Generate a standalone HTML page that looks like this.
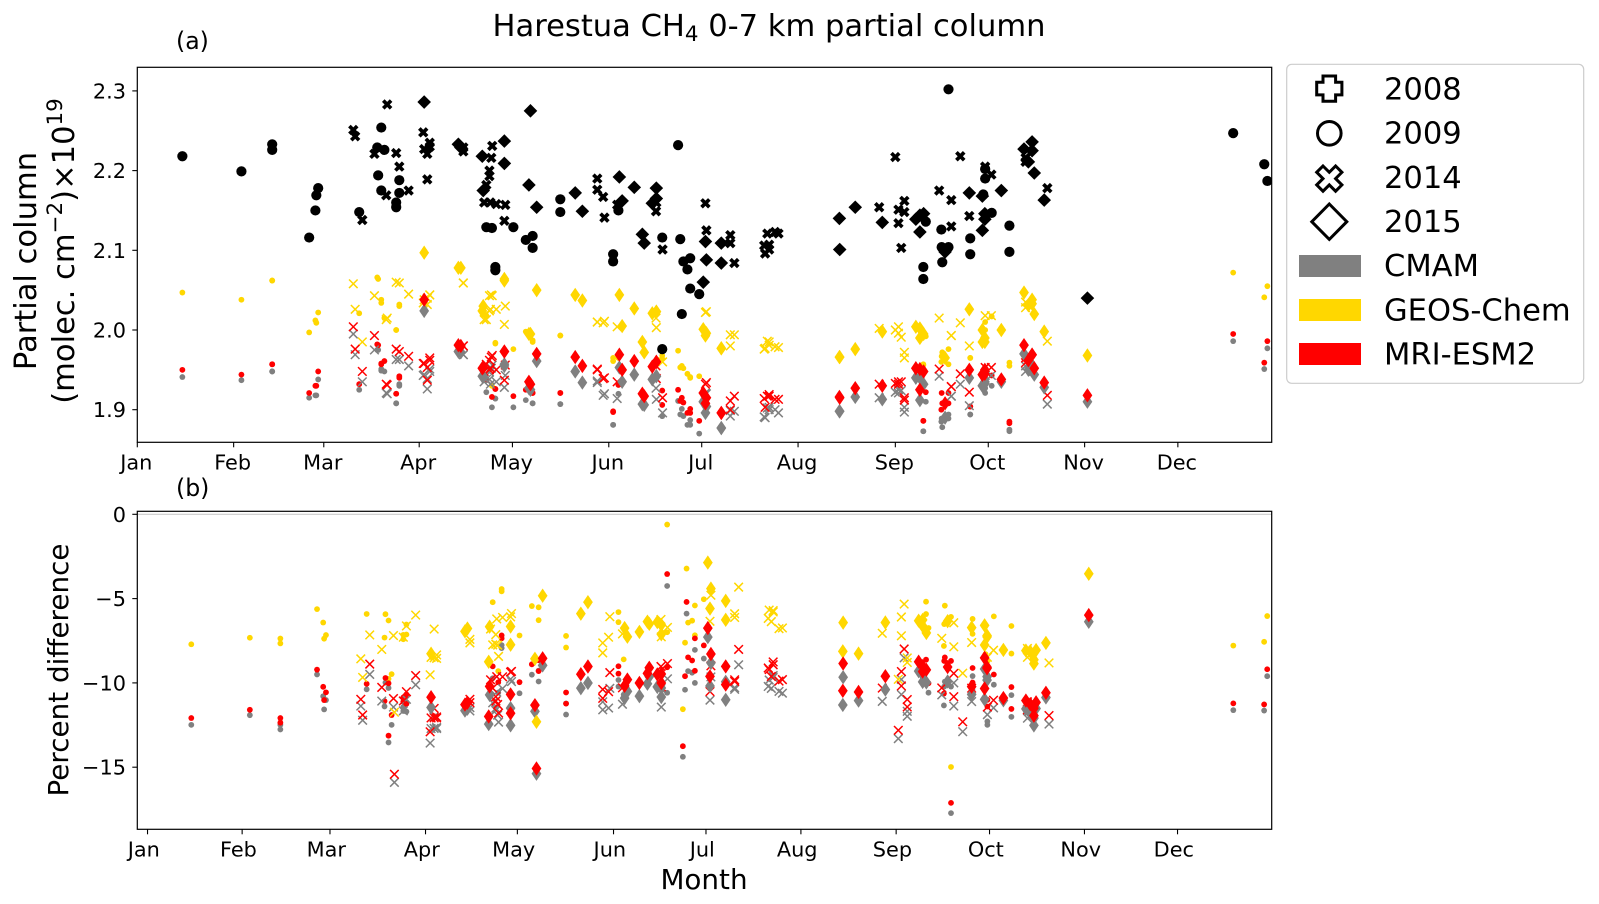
<!DOCTYPE html>
<html lang="en">
<head>
<meta charset="utf-8">
<title>Harestua CH4 0-7 km partial column</title>
<style>
html,body{margin:0;padding:0;background:#fff;}
svg{display:block;}
text{font-family:"DejaVu Sans","Liberation Sans",sans-serif;fill:#000;}
</style>
</head>
<body>
<svg id="fig" xmlns="http://www.w3.org/2000/svg" width="1599" height="904" viewBox="0 0 1599 904">
  <defs>
    <clipPath id="clip-a"><rect x="137.3" y="67.3" width="1134.4" height="375"/></clipPath>
    <clipPath id="clip-b"><rect x="137.3" y="511.3" width="1134.4" height="318"/></clipPath>
  </defs>
  <rect width="1599" height="904" fill="#fff"/>

  <text x="769" y="36" font-size="30.56" text-anchor="middle">Harestua CH<tspan font-size="21.4" dy="5">4</tspan><tspan dy="-5"> 0-7 km partial column</tspan></text>
  <text x="176" y="49" font-size="23.6">(a)</text>
  <text x="176" y="496" font-size="23.6">(b)</text>

  <text transform="translate(36 261) rotate(-90)" font-size="30.56" text-anchor="middle">Partial column</text>
  <text transform="translate(74 251) rotate(-90)" font-size="30.56" text-anchor="middle">(molec. cm<tspan font-size="21.4" dy="-12">−2</tspan><tspan dy="12">)×10</tspan><tspan font-size="21.4" dy="-12">19</tspan></text>
  <text transform="translate(68 670) rotate(-90)" font-size="27.8" text-anchor="middle">Percent difference</text>
  <text x="704" y="889" font-size="27.8" text-anchor="middle">Month</text>

  <g id="ticks"></g>
  <g id="marks-a" clip-path="url(#clip-a)"></g>
  <line id="zero-line" x1="137.3" x2="1271.7" stroke="#cccccc" stroke-width="1.2"/>
  <g id="marks-b" clip-path="url(#clip-b)"></g>
  <rect x="137.3" y="67.3" width="1134.4" height="375" fill="none" stroke="#000" stroke-width="1.2"/>
  <rect x="137.3" y="511.3" width="1134.4" height="318" fill="none" stroke="#000" stroke-width="1.2"/>

  <g>
    <rect x="1286.7" y="64.3" width="297" height="319" rx="5" ry="5" fill="#fff" stroke="#cccccc" stroke-width="1.2"/>
    <path d="M1323 76h12.6v6.3h6.3v12.6h-6.3v6.3h-12.6v-6.3h-6.3v-12.6h6.3z" fill="#fff" stroke="#000" stroke-width="3"/>
    <circle cx="1329.3" cy="133.3" r="11.8" fill="#fff" stroke="#000" stroke-width="3"/>
    <path d="M1323 166l6.3 6.3 6.3-6.3 6.3 6.3-6.3 6.3 6.3 6.3-6.3 6.3-6.3-6.3-6.3 6.3-6.3-6.3 6.3-6.3-6.3-6.3z" fill="#fff" stroke="#000" stroke-width="3"/>
    <path d="M1329.3 204l17.5 17.7-17.5 17.7-17.5-17.7z" fill="#fff" stroke="#000" stroke-width="3"/>
    <rect x="1299" y="255" width="62" height="22" fill="#808080"/>
    <rect x="1299" y="299" width="62" height="22" fill="#ffd700"/>
    <rect x="1299" y="343" width="62" height="22" fill="#ff0000"/>
    <text x="1384" y="99.5" font-size="30.56">2008</text>
    <text x="1384" y="143.5" font-size="30.56">2009</text>
    <text x="1384" y="188" font-size="30.56">2014</text>
    <text x="1384" y="232" font-size="30.56">2015</text>
    <text x="1384" y="276" font-size="30.56">CMAM</text>
    <text x="1384" y="320.5" font-size="30.56">GEOS-Chem</text>
    <text x="1384" y="364.5" font-size="30.56">MRI-ESM2</text>
  </g>
</svg>
<script>
// Tick labels and tick values for each day axis
const monthLabels = ["Jan","Feb","Mar","Apr","May","Jun","Jul","Aug","Sep","Oct","Nov","Dec"];
const monthTicksA = [0,31,60,90.7,120.7,151.7,181.6,212.6,243.9,273.8,304.8,334.8];
const monthTicksB = [0.3,31,59.5,90.5,120.3,151.5,181.5,212.3,243.2,273.5,304.3,334.5];
const yTicksA = [1.9,2.0,2.1,2.2,2.3];
const yTickLabelsA = ["1.9","2.0","2.1","2.2","2.3"];
const yTicksB = [0,-5,-10,-15];
const yTickLabelsB = ["0","−5","−10","−15"];

// 2009 soundings
const days2009 = [14.5,33.5,43.4,43.4,55.3,57.3,57.6,58.2,71.4,77.2,77.5,78.5,78.5,79.5,83.3,83.3,84.3,84.3,112.3,114.1,115.2,115.2,121,125,127.2,127.2,136.1,136.1,153.1,153.1,154.8,168.9,168.9,174,174.7,175.2,175.7,177,177.9,177.9,180.8,252.9,252.9,253.7,258.7,258.8,259,261,261,268,268,272.2,272.8,272.8,274.9,280.6,280.6,352.6,362.6,363.6];
const obs2009 = [2.218,2.199,2.233,2.226,2.116,2.150,2.169,2.178,2.148,2.229,2.194,2.254,2.175,2.226,2.160,2.154,2.188,2.172,2.129,2.128,2.079,2.075,2.129,2.113,2.118,2.103,2.164,2.148,2.095,2.086,2.150,2.116,1.976,2.232,2.114,2.020,2.086,2.076,2.090,2.052,2.045,2.079,2.064,2.136,2.126,2.104,2.085,2.104,2.302,2.115,2.095,2.170,2.202,2.190,2.147,2.131,2.098,2.247,2.208,2.187];
const cmam2009 = [1.941,1.937,1.948,1.948,1.915,1.918,1.918,1.938,1.925,1.975,1.975,1.949,1.951,1.948,1.908,1.908,1.932,1.930,1.922,1.903,1.914,1.914,1.903,1.912,1.908,1.908,1.907,1.907,1.881,1.881,1.920,1.892,1.892,1.911,1.894,1.901,1.892,1.881,1.881,1.887,1.870,1.873,1.873,1.910,1.885,1.889,1.878,1.889,1.894,1.894,1.894,1.931,1.927,1.921,1.930,1.875,1.873,1.986,1.951,1.977];
const geos2009 = [2.047,2.038,2.062,2.062,1.997,2.012,2.009,2.022,2.021,2.066,2.064,2.034,2.038,2.015,2.000,2.000,2.032,2.030,2.018,1.930,1.984,1.983,1.976,1.998,1.985,1.987,1.993,1.993,1.961,1.965,1.965,1.968,1.964,1.974,1.953,1.955,1.952,1.945,1.940,1.941,1.942,1.956,1.957,1.992,1.960,1.967,1.972,1.976,1.957,1.965,1.965,1.990,2.010,2.000,2.017,1.955,1.959,2.072,2.041,2.055];
const mri2009 = [1.950,1.944,1.957,1.957,1.921,1.930,1.930,1.948,1.932,1.982,1.981,1.958,1.957,1.961,1.920,1.920,1.942,1.940,1.937,1.916,1.926,1.926,1.917,1.925,1.921,1.921,1.921,1.921,1.897,1.898,1.931,1.924,1.906,1.925,1.911,1.915,1.909,1.896,1.896,1.901,1.886,1.886,1.886,1.922,1.900,1.921,1.908,1.921,1.908,1.904,1.904,1.946,1.951,1.949,1.943,1.885,1.883,1.995,1.959,1.986];

// 2014 soundings
const days2014 = [69.5,70.1,72.4,76.3,80.1,80.4,83.3,84.3,87.3,92,92.3,93.3,93.3,94.1,94.1,104.9,104.9,111.6,112.3,113.3,113.3,113.6,113.9,114.2,115.5,118.1,118.4,148,148,149.9,150.3,154.4,166.9,167,169,182.8,183.1,190.8,190.8,192.1,201.7,202,202.7,203.3,203.3,205.2,206.3,238.7,243.9,244.9,244.9,245.8,246.8,246.8,258,261.9,261.9,264.8,267.7,272.8,274.8,285.8,285.8,292.8];
const obs2014 = [2.251,2.243,2.138,2.221,2.169,2.283,2.222,2.205,2.175,2.248,2.227,2.221,2.189,2.235,2.230,2.229,2.224,2.160,2.182,2.200,2.193,2.160,2.216,2.231,2.158,2.137,2.157,2.190,2.176,2.167,2.141,2.157,2.149,2.160,2.101,2.159,2.125,2.119,2.109,2.084,2.106,2.096,2.121,2.107,2.101,2.123,2.121,2.154,2.217,2.151,2.134,2.103,2.162,2.148,2.175,2.163,2.130,2.218,2.143,2.205,2.195,2.216,2.211,2.178];
const cmam2014 = [1.995,1.969,1.935,1.975,1.921,1.920,1.963,1.963,1.955,1.943,1.944,1.939,1.926,1.951,1.948,1.969,1.969,1.935,1.938,1.947,1.938,1.932,1.952,1.956,1.935,1.928,1.943,1.936,1.934,1.918,1.920,1.914,1.927,1.913,1.896,1.921,1.920,1.899,1.892,1.898,1.891,1.890,1.902,1.903,1.900,1.900,1.896,1.915,1.922,1.921,1.925,1.924,1.903,1.897,1.942,1.917,1.917,1.932,1.905,1.943,1.943,1.948,1.955,1.907];
const geos2014 = [2.058,2.026,1.985,2.043,2.013,2.015,2.060,2.059,2.045,2.034,2.038,2.032,2.040,2.044,2.044,2.059,2.059,2.013,2.013,2.043,2.024,2.026,2.044,2.043,2.026,2.007,2.030,2.010,2.010,2.009,2.011,2.004,2.015,2.003,1.960,2.022,2.023,1.994,1.980,1.994,1.976,1.977,1.986,1.985,1.981,1.979,1.978,2.002,2.000,1.996,2.004,1.991,1.972,1.965,2.015,1.993,1.993,2.009,1.980,2.018,2.018,2.028,2.035,1.986];
const mri2014 = [2.004,1.976,1.948,1.993,1.932,1.931,1.976,1.973,1.967,1.958,1.958,1.953,1.937,1.965,1.962,1.980,1.980,1.948,1.957,1.962,1.950,1.952,1.966,1.968,1.950,1.937,1.956,1.951,1.950,1.939,1.940,1.935,1.955,1.939,1.915,1.932,1.934,1.911,1.900,1.917,1.914,1.903,1.917,1.919,1.917,1.913,1.913,1.932,1.933,1.932,1.935,1.935,1.915,1.912,1.951,1.929,1.929,1.945,1.922,1.953,1.953,1.959,1.965,1.918];

// 2015 soundings
const days2015 = [92.3,103.3,104.1,111,111.3,118.1,118.1,126,126.5,128.5,140.9,143.2,155.1,156,159.9,162.5,163.1,165.7,167,167,182.1,182.8,183.1,187.9,187.9,225.9,226,231,239.7,250.5,251.8,251.8,253,259.9,267.7,271.9,271.9,272.7,272.7,278,285.3,286.7,287.9,287.9,288.6,291.8,305.7];
const obs2015 = [2.286,2.233,2.229,2.218,2.175,2.237,2.209,2.182,2.275,2.154,2.172,2.149,2.192,2.162,2.179,2.120,2.109,2.159,2.178,2.165,2.060,2.111,2.088,2.109,2.084,2.140,2.101,2.154,2.135,2.139,2.144,2.123,2.146,2.098,2.172,2.168,2.125,2.146,2.139,2.175,2.227,2.211,2.236,2.225,2.197,2.163,2.040];
const cmam2015 = [2.024,1.973,1.972,1.942,1.942,1.957,1.955,1.927,1.925,1.961,1.948,1.934,1.953,1.935,1.944,1.907,1.906,1.938,1.942,1.942,1.910,1.896,1.904,1.877,1.877,1.898,1.898,1.916,1.913,1.940,1.940,1.912,1.932,1.890,1.940,1.930,1.930,1.935,1.933,1.935,1.970,1.950,1.956,1.956,1.944,1.928,1.910];
const geos2015 = [2.097,2.078,2.078,2.024,2.030,2.064,2.062,1.995,1.995,2.050,2.044,2.037,2.044,2.005,2.027,1.985,1.972,2.021,2.023,2.023,2.001,1.993,1.996,1.977,1.977,1.966,1.966,1.976,1.998,2.004,2.002,1.990,1.995,1.965,2.026,2.000,1.985,1.990,1.985,2.000,2.047,2.031,2.038,2.033,2.020,1.998,1.968];
const mri2015 = [2.038,1.981,1.980,1.952,1.953,1.973,1.973,1.935,1.932,1.970,1.966,1.955,1.969,1.950,1.961,1.920,1.917,1.954,1.960,1.960,1.921,1.908,1.915,1.896,1.896,1.916,1.915,1.927,1.930,1.952,1.951,1.925,1.948,1.908,1.950,1.944,1.944,1.950,1.945,1.938,1.981,1.962,1.969,1.969,1.952,1.934,1.918];

const SVGNS = "http://www.w3.org/2000/svg";

// Axis functions
function xA(d){ return 137.3 + 3.108 * d; }
function xB(d){ return 146.6 + 3.082 * d; }
function yA(v){ return 330 + (2.0 - v) * 797; }
function yB(p){ return 514.3 - p * 16.86; }
function pct(model, obs){ return (model - obs) / obs * 100; }

document.getElementById('zero-line').setAttribute('y1', yB(0));
document.getElementById('zero-line').setAttribute('y2', yB(0));

function svgEl(tag, parent){
  const el = document.createElementNS(SVGNS, tag);
  parent.appendChild(el);
  return el;
}

function xPath(cx, cy, u){
  const pts = [[-1,-2],[0,-1],[1,-2],[2,-1],[1,0],[2,1],[1,2],[0,1],[-1,2],[-2,1],[-1,0],[-2,-1]];
  return "M" + pts.map(function(p){ return (cx + p[0]*u).toFixed(2) + " " + (cy + p[1]*u).toFixed(2); }).join("L") + "Z";
}

function drawMark(group, kind, cx, cy, color, name){
  let el;
  if (kind === "obs2009") {
    el = svgEl("circle", group);
    el.setAttribute("cx", cx); el.setAttribute("cy", cy); el.setAttribute("r", 5.1);
    el.setAttribute("fill", color);
  } else if (kind === "obs2014") {
    el = svgEl("path", group);
    el.setAttribute("d", xPath(cx, cy, 2.6));
    el.setAttribute("fill", color);
  } else if (kind === "obs2015") {
    el = svgEl("path", group);
    el.setAttribute("d", "M" + cx + " " + (cy-6.8) + "L" + (cx+6.8) + " " + cy + "L" + cx + " " + (cy+6.8) + "L" + (cx-6.8) + " " + cy + "Z");
    el.setAttribute("fill", color);
  } else if (kind === "model2009") {
    el = svgEl("circle", group);
    el.setAttribute("cx", cx); el.setAttribute("cy", cy); el.setAttribute("r", 2.9);
    el.setAttribute("fill", color);
  } else if (kind === "model2014") {
    el = svgEl("path", group);
    el.setAttribute("d", "M" + (cx-4.3) + " " + (cy-4.3) + "L" + (cx+4.3) + " " + (cy+4.3) + "M" + (cx-4.3) + " " + (cy+4.3) + "L" + (cx+4.3) + " " + (cy-4.3));
    el.setAttribute("stroke", color);
    el.setAttribute("stroke-width", 1.5);
    el.setAttribute("fill", "none");
  } else {
    el = svgEl("path", group);
    el.setAttribute("d", "M" + cx + " " + (cy-7.2) + "L" + (cx+4.9) + " " + cy + "L" + cx + " " + (cy+7.2) + "L" + (cx-4.9) + " " + cy + "Z");
    el.setAttribute("fill", color);
  }
  
  
}

const groupA = document.getElementById('marks-a');
const groupB = document.getElementById('marks-b');

function drawYear(year, days, obs, cmam, geos, mri){
  const modelKind = "model" + year;
  const models = [[cmam, "#808080", "cmam"], [geos, "#ffd700", "geos-chem"], [mri, "#ff0000", "mri-esm2"]];
  models.forEach(function(m){
    days.forEach(function(d, i){
      drawMark(groupA, modelKind, xA(d), yA(m[0][i]), m[1], "column-" + m[2] + "-" + year);
      drawMark(groupB, modelKind, xB(d), yB(pct(m[0][i], obs[i])), m[1], "difference-" + m[2] + "-" + year);
    });
  });
}

drawYear(2009, days2009, obs2009, cmam2009, geos2009, mri2009);
drawYear(2014, days2014, obs2014, cmam2014, geos2014, mri2014);
drawYear(2015, days2015, obs2015, cmam2015, geos2015, mri2015);

days2009.forEach(function(d, i){ drawMark(groupA, "obs2009", xA(d), yA(obs2009[i]), "#000", "column-observed-2009"); });
days2014.forEach(function(d, i){ drawMark(groupA, "obs2014", xA(d), yA(obs2014[i]), "#000", "column-observed-2014"); });
days2015.forEach(function(d, i){ drawMark(groupA, "obs2015", xA(d), yA(obs2015[i]), "#000", "column-observed-2015"); });

// Ticks and tick labels
const tickGroup = document.getElementById('ticks');

function tickLine(x1, y1, x2, y2, name){
  const l = svgEl("line", tickGroup);
  l.setAttribute("x1", x1); l.setAttribute("y1", y1);
  l.setAttribute("x2", x2); l.setAttribute("y2", y2);
  l.setAttribute("stroke", "#000");
  l.setAttribute("stroke-width", 1.1);
  
  
}

function tickText(x, y, anchor, str, name){
  const t = svgEl("text", tickGroup);
  t.setAttribute("x", x); t.setAttribute("y", y);
  t.setAttribute("text-anchor", anchor);
  t.setAttribute("font-size", 20.83);
  t.textContent = str;
  
  
}

monthTicksA.forEach(function(d, i){
  tickLine(xA(d), 442.3, xA(d), 447.3, "x-tick-a");
  tickText(xA(d) - 1, 469.5, "middle", monthLabels[i], "x-tick-label-a");
});
monthTicksB.forEach(function(d, i){
  tickLine(xB(d), 829.3, xB(d), 834.3, "x-tick-b");
  tickText(xB(d) - 3.7, 856.5, "middle", monthLabels[i], "x-tick-label-b");
});
yTicksA.forEach(function(v, i){
  tickLine(132.3, yA(v), 137.3, yA(v), "y-tick-a");
  tickText(126, yA(v) + 7.5, "end", yTickLabelsA[i], "y-tick-label-a");
});
yTicksB.forEach(function(v, i){
  tickLine(132.3, yB(v), 137.3, yB(v), "y-tick-b");
  tickText(126, yB(v) + 7.5, "end", yTickLabelsB[i], "y-tick-label-b");
});
</script>
</body>
</html>
